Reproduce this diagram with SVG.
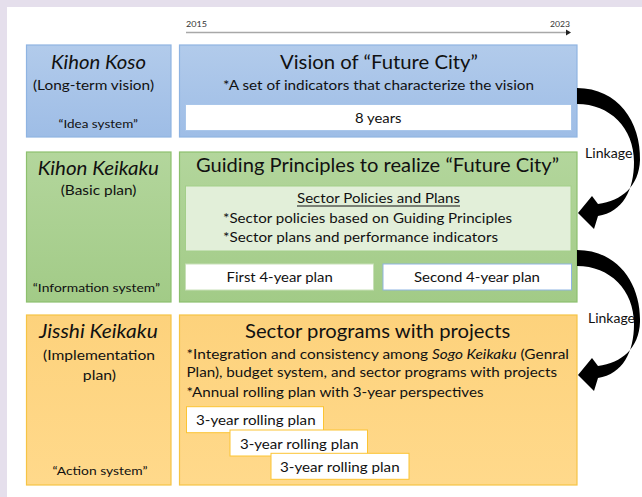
<svg xmlns="http://www.w3.org/2000/svg" width="642" height="497" viewBox="0 0 642 497">
<defs>
<linearGradient id="gBlue" x1="0" y1="0" x2="0" y2="1"><stop offset="0" stop-color="#b2cbeb"/><stop offset="1" stop-color="#9ebde6"/></linearGradient>
<linearGradient id="gGreen" x1="0" y1="0" x2="0" y2="1"><stop offset="0" stop-color="#b3d69c"/><stop offset="1" stop-color="#a2cb87"/></linearGradient>
<linearGradient id="gOrange" x1="0" y1="0" x2="0" y2="1"><stop offset="0" stop-color="#fdd27c"/><stop offset="1" stop-color="#ffd98b"/></linearGradient>
<style>
text{font-family:Lato,"Open Sans","Liberation Sans",sans-serif;fill:#111;}
.blue{fill:url(#gBlue);stroke:#8fb4e2;stroke-width:1.2;}
.green{fill:url(#gGreen);stroke:#8dc06e;stroke-width:1.2;}
.orange{fill:url(#gOrange);stroke:#f6c445;stroke-width:1.2;}
.wbox{fill:#fff;}
.t{font-size:18.5px;}
.m{font-size:14px;}
.s{font-size:12px;}
.y{font-size:8px;fill:#333;}
.it{font-style:italic;}
.lk{font-size:13.5px;}
.arrow{fill:#000;}
</style>
</defs>
<rect x="0" y="0" width="642" height="497" fill="#e5dfec"/>
<rect x="7" y="7" width="635" height="490" fill="#ffffff"/>

<g id="timeline">
<line x1="186" y1="32.5" x2="566" y2="32.5" stroke="#a8a8a8" stroke-width="1.3"/>
<polygon points="566,29.5 571,32.5 566,35.5" fill="#222"/>
<text class="y" x="186" y="27" textLength="21" lengthAdjust="spacingAndGlyphs">2015</text>
<text class="y" x="550" y="27" textLength="20" lengthAdjust="spacingAndGlyphs">2023</text>
</g>

<g id="kihon-koso">
<rect class="blue" x="26.5" y="45" width="144.5" height="92"/>
<text class="t it" x="51" y="69" textLength="95" lengthAdjust="spacingAndGlyphs">Kihon Koso</text>
<text class="m" x="33" y="90" textLength="121" lengthAdjust="spacingAndGlyphs">(Long-term vision)</text>
<text class="s" x="58.5" y="128" textLength="79.5" lengthAdjust="spacingAndGlyphs">“Idea system”</text>
</g>

<g id="vision">
<rect class="blue" x="179.5" y="45" width="397.5" height="92"/>
<text class="t" x="280" y="69.3" textLength="198" lengthAdjust="spacingAndGlyphs">Vision of “Future City”</text>
<text class="m" x="223" y="90" textLength="311" lengthAdjust="spacingAndGlyphs">*A set of indicators that characterize the vision</text>
<rect class="wbox" x="185.5" y="104.5" width="386" height="26" stroke="#a9c6ea" stroke-width="1"/>
<text class="m" x="355" y="122.7" textLength="46.5" lengthAdjust="spacingAndGlyphs">8 years</text>
</g>

<g id="kihon-keikaku">
<rect class="green" x="26.5" y="152" width="144.5" height="150"/>
<text class="t it" x="37.7" y="175" textLength="121.3" lengthAdjust="spacingAndGlyphs">Kihon Keikaku</text>
<text class="m" x="60.7" y="195" textLength="75.8" lengthAdjust="spacingAndGlyphs">(Basic plan)</text>
<text class="s" x="32.8" y="291.7" textLength="127.2" lengthAdjust="spacingAndGlyphs">“Information system”</text>
</g>

<g id="guiding-principles">
<rect class="green" x="179.5" y="152" width="397.5" height="150"/>
<text class="t" x="196" y="171.7" textLength="363" lengthAdjust="spacingAndGlyphs">Guiding Principles to realize “Future City”</text>
<rect x="185.5" y="186" width="385.5" height="65" fill="#e2efd9" stroke="#a4cf8a" stroke-width="1"/>
<text class="m" x="297" y="203.3" textLength="163" lengthAdjust="spacingAndGlyphs">Sector Policies and Plans</text>
<line x1="297" y1="206" x2="460" y2="206" stroke="#111" stroke-width="1"/>
<text class="m" x="223" y="223.3" textLength="289" lengthAdjust="spacingAndGlyphs">*Sector policies based on Guiding Principles</text>
<text class="m" x="223" y="242.3" textLength="275" lengthAdjust="spacingAndGlyphs">*Sector plans and performance indicators</text>
<rect class="wbox" x="185.5" y="264" width="188" height="26" stroke="#c8e0b8" stroke-width="1"/>
<text class="m" x="226.6" y="281.7" textLength="106.2" lengthAdjust="spacingAndGlyphs">First 4-year plan</text>
<rect class="wbox" x="383" y="264" width="188.5" height="26" stroke="#8fb4e2" stroke-width="1"/>
<text class="m" x="414" y="281.7" textLength="126" lengthAdjust="spacingAndGlyphs">Second 4-year plan</text>
</g>

<g id="jisshi-keikaku">
<rect class="orange" x="26.5" y="315" width="144.5" height="170"/>
<text class="t it" x="39" y="338.3" textLength="118.8" lengthAdjust="spacingAndGlyphs">Jisshi Keikaku</text>
<text class="m" x="43" y="360" textLength="112" lengthAdjust="spacingAndGlyphs">(Implementation</text>
<text class="m" x="82.8" y="380" textLength="33.2" lengthAdjust="spacingAndGlyphs">plan)</text>
<text class="s" x="52.5" y="475" textLength="95" lengthAdjust="spacingAndGlyphs">“Action system”</text>
</g>

<g id="sector-programs">
<rect class="orange" x="179.5" y="315" width="397.5" height="170"/>
<text class="t" x="245" y="338.3" textLength="265.2" lengthAdjust="spacingAndGlyphs">Sector programs with projects</text>
<text class="m" x="186.5" y="359.3" textLength="382.5" lengthAdjust="spacingAndGlyphs">*Integration and consistency among <tspan class="it">Sogo Keikaku</tspan> (Genral</text>
<text class="m" x="186.5" y="377.3" textLength="370.5" lengthAdjust="spacingAndGlyphs">Plan), budget system, and sector programs with projects</text>
<text class="m" x="186.5" y="396.7" textLength="297" lengthAdjust="spacingAndGlyphs">*Annual rolling plan with 3-year perspectives</text>
<rect class="wbox" x="186.5" y="406.7" width="137" height="26" stroke="#fcc433" stroke-width="1"/>
<text class="m" x="196" y="425" textLength="119.6" lengthAdjust="spacingAndGlyphs">3-year rolling plan</text>
<rect class="wbox" x="230" y="430" width="137.5" height="26" stroke="#fcc433" stroke-width="1"/>
<text class="m" x="240" y="449" textLength="118.6" lengthAdjust="spacingAndGlyphs">3-year rolling plan</text>
<rect class="wbox" x="271" y="453.3" width="138" height="26" stroke="#fcc433" stroke-width="1"/>
<text class="m" x="280" y="471.7" textLength="119.6" lengthAdjust="spacingAndGlyphs">3-year rolling plan</text>
</g>

<g id="connectors">
<path id="arrow1" class="arrow" d="M577,88 C618,88 641,122 640,160 C639,186 622,201 598,204 L592,196 L578,213 L594,229 L598,216 C623,212 634,190 634,162 C634,128 610,104 577,104 Z"/>
<path id="arrow2" class="arrow" d="M577,250 C618,250 641,284 640,322 C639,348 622,363 598,366 L592,358 L578,375 L594,391 L598,378 C623,374 634,352 634,324 C634,290 610,266 577,266 Z"/>
<text class="lk" x="585" y="158" textLength="47.5" lengthAdjust="spacingAndGlyphs">Linkage</text>
<text class="lk" x="588" y="323" textLength="47" lengthAdjust="spacingAndGlyphs">Linkage</text>
</g>
</svg>
